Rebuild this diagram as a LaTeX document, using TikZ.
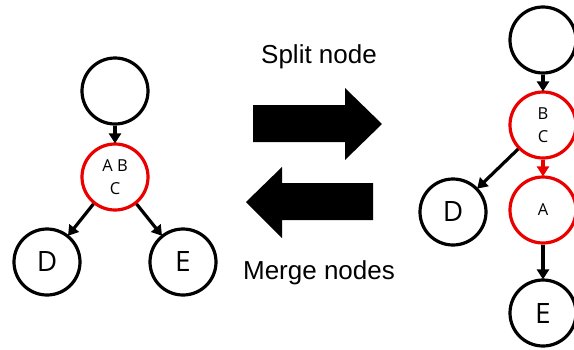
\documentclass[tikz,border=0pt]{standalone}
\usepackage{fontspec}
\setmainfont{Open Sans}
\newfontfamily\labelfont{Liberation Sans}
\usetikzlibrary{arrows.meta}
\definecolor{splitred}{RGB}{235,0,0}
\tikzset{
  vertex/.style={circle, draw=black, line width=3.2pt, minimum size=66pt, inner sep=0pt, font=\fontsize{28}{28}\selectfont},
  hot/.style={vertex, draw=splitred, font=\fontsize{16.5}{23}\selectfont, align=center},
  link/.style={line width=3.2pt, -{Triangle[length=10pt,width=12pt]}, shorten >=-1pt},
  redlink/.style={link, draw=splitred},
  bigarrow/.style={fill=black, draw=none},
  caption/.style={font=\labelfont\fontsize{26}{26}\selectfont, anchor=base}
}
\begin{document}
\begin{tikzpicture}[x=1pt, y=-1pt]
  \useasboundingbox (0,0) rectangle (574,349);

  % merged graph
  \node[vertex] (lt) at (115,91) {};
  \node[hot] (abc) at (115,177) {A B\\C};
  \node[vertex] (ld) at (47,262) {D};
  \node[vertex] (le) at (183,262) {E};
  \draw[link] (lt) -- (abc);
  \draw[link] (abc) -- (ld);
  \draw[link] (abc) -- (le);

  % split graph
  \node[vertex] (rt) at (543,40) {};
  \node[hot] (bc) at (543,125) {B\\C};
  \node[hot] (ra) at (543,210) {A};
  \node[vertex] (rd) at (453,212) {D};
  \node[vertex] (re) at (543,313) {E};
  \draw[link] (rt) -- (bc);
  \draw[redlink] (bc) -- (ra);
  \draw[link] (bc) -- (rd);
  \draw[link] (ra) -- (re);

  % transformation arrows
  \fill[bigarrow] (253,105) -- (345,105) -- (345,88) -- (382,124)
    -- (345,160) -- (345,142) -- (253,142) -- cycle;
  \fill[bigarrow] (373,183) -- (282,183) -- (282,167) -- (246,202)
    -- (282,238) -- (282,220) -- (373,220) -- cycle;
  \node[caption] (split) at (319,63) {Split node};
  \node[caption] (merge) at (319,279) {Merge nodes};
\end{tikzpicture}
\end{document}
